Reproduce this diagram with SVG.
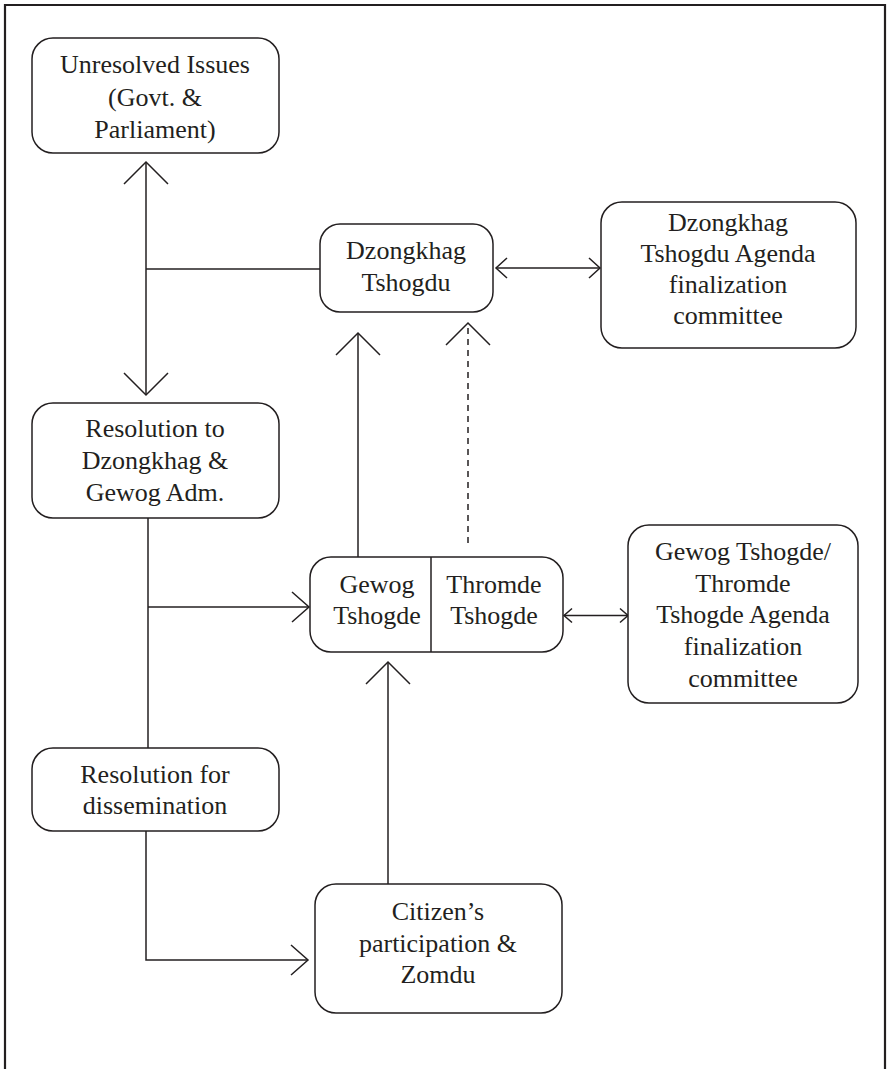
<svg xmlns="http://www.w3.org/2000/svg" width="888" height="1069" viewBox="0 0 888 1069">
<style>
.box{fill:#fff;stroke:#231f20;stroke-width:1.5}
.t{font-family:"Liberation Serif","Times New Roman",serif;font-size:26px;fill:#231f20;text-anchor:middle}
.c{fill:none;stroke:#231f20;stroke-width:1.5}
.d{stroke-dasharray:6 5}
.mk{fill:none;stroke:#231f20;stroke-width:1.5}
</style>
<defs>
<marker id="lg" markerUnits="userSpaceOnUse" viewBox="-25 -25 28 50" markerWidth="28" markerHeight="50" refX="0" refY="0" orient="auto-start-reverse"><path class="mk" d="M-22,-22 L0,0 L-22,22"/></marker>
<marker id="md" markerUnits="userSpaceOnUse" viewBox="-20 -19 23 38" markerWidth="23" markerHeight="38" refX="0" refY="0" orient="auto-start-reverse"><path class="mk" d="M-17,-15 L0,0 L-17,15"/></marker>
<marker id="sm" markerUnits="userSpaceOnUse" viewBox="-13 -13 16 26" markerWidth="16" markerHeight="26" refX="0" refY="0" orient="auto-start-reverse"><path class="mk" d="M-11,-10 L0,0 L-11,10"/></marker>
<marker id="xs" markerUnits="userSpaceOnUse" viewBox="-11 -10 14 20" markerWidth="14" markerHeight="20" refX="0" refY="0" orient="auto-start-reverse"><path class="mk" d="M-8,-7 L0,0 L-8,7"/></marker>
</defs>
<rect x="0" y="0" width="888" height="1069" fill="#fff"/>
<path d="M5,1069 V5 H885 V1069" fill="none" stroke="#231f20" stroke-width="2.2"/>

<g id="connectors">
<path class="c" d="M146,162 V395" marker-start="url(#lg)" marker-end="url(#lg)"/>
<path class="c" d="M146,269 H320"/>
<path class="c" d="M496,268 H600" marker-start="url(#sm)" marker-end="url(#sm)"/>
<path class="c" d="M358,557 V333" marker-end="url(#lg)"/>
<path class="c d" d="M468,543 V323" marker-end="url(#lg)"/>
<path class="c" d="M148,518 V748"/>
<path class="c" d="M148,607 H309" marker-end="url(#md)"/>
<path class="c" d="M564,615.5 H628" marker-start="url(#xs)" marker-end="url(#xs)"/>
<path class="c" d="M388,884 V662" marker-end="url(#lg)"/>
<path class="c" d="M146,831 V960 H308" marker-end="url(#md)"/>
</g>

<g id="unresolved">
<rect class="box" x="32" y="38" width="247" height="115" rx="21"/>
<text class="t" x="155" y="73">Unresolved Issues</text>
<text class="t" x="155" y="106">(Govt. &amp;</text>
<text class="t" x="155" y="138">Parliament)</text>
</g>

<g id="dzongkhag-tshogdu">
<rect class="box" x="320" y="224" width="173" height="88" rx="20"/>
<text class="t" x="406" y="259">Dzongkhag</text>
<text class="t" x="406" y="291">Tshogdu</text>
</g>

<g id="dz-agenda">
<rect class="box" x="601" y="202" width="255" height="146" rx="21"/>
<text class="t" x="728" y="231">Dzongkhag</text>
<text class="t" x="728" y="262">Tshogdu Agenda</text>
<text class="t" x="728" y="293">finalization</text>
<text class="t" x="728" y="324">committee</text>
</g>

<g id="resolution-dz">
<rect class="box" x="32" y="403" width="247" height="115" rx="21"/>
<text class="t" x="155" y="437">Resolution to</text>
<text class="t" x="155" y="469">Dzongkhag &amp;</text>
<text class="t" x="155" y="501">Gewog Adm.</text>
</g>

<g id="gewog-thromde">
<rect class="box" x="310" y="557" width="253" height="95" rx="21"/>
<path class="c" d="M431,557 V652"/>
<text class="t" x="377" y="593">Gewog</text>
<text class="t" x="377" y="624">Tshogde</text>
<text class="t" x="494" y="593">Thromde</text>
<text class="t" x="494" y="624">Tshogde</text>
</g>

<g id="gewog-agenda">
<rect class="box" x="628" y="525" width="230" height="178" rx="21"/>
<text class="t" x="743" y="560">Gewog Tshogde/</text>
<text class="t" x="743" y="592">Thromde</text>
<text class="t" x="743" y="623">Tshogde Agenda</text>
<text class="t" x="743" y="655">finalization</text>
<text class="t" x="743" y="687">committee</text>
</g>

<g id="dissemination">
<rect class="box" x="32" y="748" width="247" height="83" rx="21"/>
<text class="t" x="155" y="783">Resolution for</text>
<text class="t" x="155" y="814">dissemination</text>
</g>

<g id="citizen">
<rect class="box" x="315" y="884" width="247" height="129" rx="21"/>
<text class="t" x="438" y="920">Citizen’s</text>
<text class="t" x="438" y="952">participation &amp;</text>
<text class="t" x="438" y="983">Zomdu</text>
</g>
</svg>
